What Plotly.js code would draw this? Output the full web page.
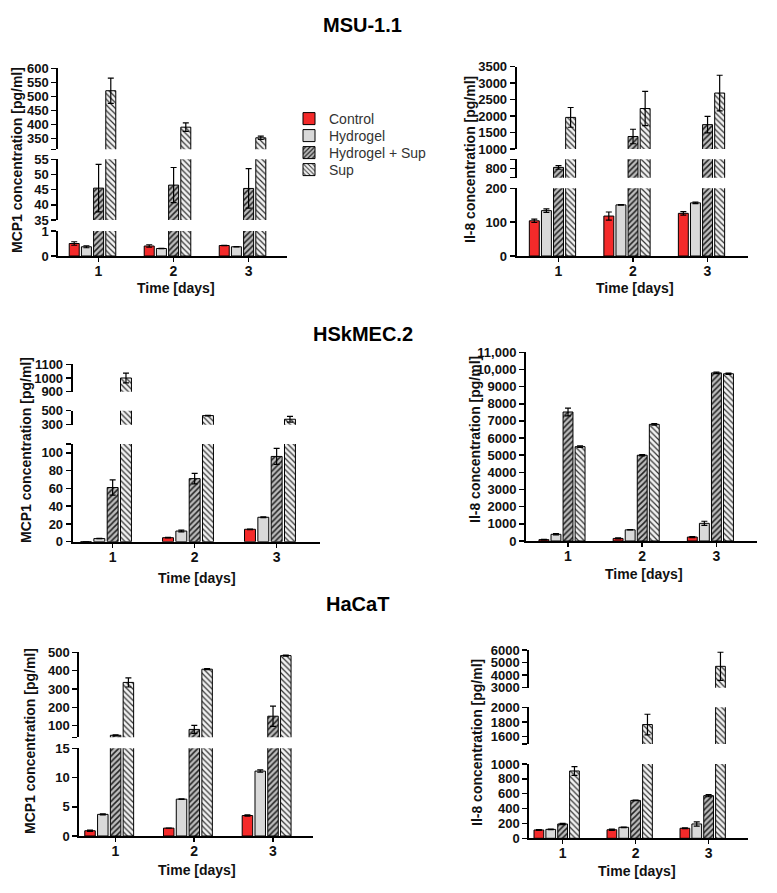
<!DOCTYPE html>
<html><head><meta charset="utf-8">
<script src="https://cdn.plot.ly/plotly-3.0.1.min.js"></script>
<style>html,body{margin:0;padding:0;background:#fff}#chart{width:777px;height:893px}</style>
</head><body><div id="chart"></div>
<script>
// ---------- DATA ----------
const days = [1, 2, 3];
const seriesNames = ['Control', 'Hydrogel', 'Hydrogel + Sup', 'Sup'];

// MSU-1.1 MCP1
const msuMcp1Control = [0.50, 0.40, 0.42];   const msuMcp1ControlErr = [0.07, 0.05, 0.01];
const msuMcp1Hydrogel = [0.37, 0.30, 0.37];  const msuMcp1HydrogelErr = [0.04, 0.01, 0.01];
const msuMcp1HydSup = [45.5, 46.5, 45.4];    const msuMcp1HydSupErr = [7.8, 5.8, 6.5];
const msuMcp1Sup = [520, 390, 352];          const msuMcp1SupErr = [45, 15, 6];
// MSU-1.1 IL-8
const msuIl8Control = [104, 118, 126];       const msuIl8ControlErr = [5, 12, 5];
const msuIl8Hydrogel = [134, 151, 157];      const msuIl8HydrogelErr = [5, 1, 2];
const msuIl8HydSup = [806, 1380, 1740];      const msuIl8HydSupErr = [10, 220, 250];
const msuIl8Sup = [1960, 2230, 2700];        const msuIl8SupErr = [300, 520, 540];
// HSkMEC.2 MCP1
const hskMcp1Control = [0, 4.5, 14];         const hskMcp1ControlErr = [0, 0.3, 0.3];
const hskMcp1Hydrogel = [3.5, 12, 27.5];     const hskMcp1HydrogelErr = [0.2, 1, 0.5];
const hskMcp1HydSup = [61, 71, 96];          const hskMcp1HydSupErr = [8.5, 6, 9];
const hskMcp1Sup = [1000, 430, 378];         const hskMcp1SupErr = [35, 5, 42];
// HSkMEC.2 IL-8
const hskIl8Control = [80, 150, 230];        const hskIl8ControlErr = [20, 30, 30];
const hskIl8Hydrogel = [390, 650, 1030];     const hskIl8HydrogelErr = [40, 10, 120];
const hskIl8HydSup = [7520, 5000, 9800];     const hskIl8HydSupErr = [230, 40, 40];
const hskIl8Sup = [5500, 6800, 9750];        const hskIl8SupErr = [50, 50, 40];
// HaCaT MCP1
const hacMcp1Control = [0.9, 1.35, 3.5];     const hacMcp1ControlErr = [0.1, 0.02, 0.1];
const hacMcp1Hydrogel = [3.7, 6.3, 11.1];    const hacMcp1HydrogelErr = [0.1, 0.05, 0.2];
const hacMcp1HydSup = [48, 80, 152];         const hacMcp1HydSupErr = [3, 22, 55];
const hacMcp1Sup = [336, 408, 482];          const hacMcp1SupErr = [25, 3, 3];
// HaCaT IL-8
const hacIl8Control = [112, 115, 135];       const hacIl8ControlErr = [5, 8, 5];
const hacIl8Hydrogel = [120, 148, 193];      const hacIl8HydrogelErr = [5, 3, 28];
const hacIl8HydSup = [193, 510, 574];        const hacIl8HydSupErr = [8, 3, 15];
const hacIl8Sup = [906, 1765, 4700];         const hacIl8SupErr = [60, 140, 1120];

// tick labels
const dayTickText = ['1', '2', '3'];
const msuMcp1TickTop = ['', '350', '400', '450', '500', '550', '600'];
const msuMcp1TickMid = ['35', '40', '45', '50', '55'];
const msuMcp1TickLow = ['0', '1'];
const msuIl8TickTop = ['1000', '1500', '2000', '2500', '3000', '3500'];
const msuIl8TickMid = ['', '800', ''];
const msuIl8TickLow = ['0', '100', '200'];
const hskMcp1TickTop = ['900', '1000', '1100'];
const hskMcp1TickMid = ['300', '500'];
const hskMcp1TickLow = ['0', '20', '40', '60', '80', '100', ''];
const hskIl8Tick = ['0', '1000', '2000', '3000', '4000', '5000', '6000', '7000', '8000', '9000', '10,000', '11,000'];
const hacMcp1TickTop = ['', '100', '200', '300', '400', '500'];
const hacMcp1TickLow = ['0', '5', '10', '15'];
const hacIl8TickTop = ['3000', '4000', '5000', '6000'];
const hacIl8TickMid = ['', '1600', '1800', '2000'];
const hacIl8TickLow = ['0', '200', '400', '600', '800', '1000'];

// ---------- LAYOUT / STYLE ----------
const W = 777, H = 893;
const FONT = "Arial, 'Liberation Sans', sans-serif";
const px = x => x / W, py = y => 1 - y / H;
const TICK_SHIFT = 0.08;

const seriesStyle = [
  {color: '#f42a2a'},
  {color: '#d9d9d9'},
  {color: '#b5b5b5', pattern: {shape: '/', bgcolor: '#bdbdbd', fgcolor: '#222', size: 4, solidity: 0.38}},
  {color: '#eeeeee', pattern: {shape: '\\', bgcolor: '#f2f2f2', fgcolor: '#333', size: 4, solidity: 0.3}}
];
const legendRowsY = [119, 136, 153, 170];

const panels = [
  {xL: 58.3, xR: 286.7, range: [0.544, 3.589],
   vals: [msuMcp1Control, msuMcp1Hydrogel, msuMcp1HydSup, msuMcp1Sup],
   errs: [msuMcp1ControlErr, msuMcp1HydrogelErr, msuMcp1HydSupErr, msuMcp1SupErr],
   segs: [
     {r: [0, 1], yb: 256, yt: 231, tv: [0, 1], tt: msuMcp1TickLow},
     {r: [35, 55], yb: 220, yt: 159.3, tv: [35, 40, 45, 50, 55], tt: msuMcp1TickMid},
     {r: [311, 600], yb: 149.3, yt: 68.3, tv: [311, 350, 400, 450, 500, 550, 600], tt: msuMcp1TickTop}],
   ytitle: 'MCP1 concentration [pg/ml]', ytx: 17, yty: 160, xtx: 175.7, xty: 288},
  {xL: 516.7, xR: 748.3, range: [0.52, 3.628],
   vals: [msuIl8Control, msuIl8Hydrogel, msuIl8HydSup, msuIl8Sup],
   errs: [msuIl8ControlErr, msuIl8HydrogelErr, msuIl8HydSupErr, msuIl8SupErr],
   segs: [
     {r: [0, 200], yb: 256, yt: 188.3, tv: [0, 100, 200], tt: msuIl8TickLow},
     {r: [750, 850], yb: 177.7, yt: 159.3, tv: [750, 800, 850], tt: msuIl8TickMid},
     {r: [1000, 3500], yb: 149, yt: 66.7, tv: [1000, 1500, 2000, 2500, 3000, 3500], tt: msuIl8TickTop}],
   ytitle: 'Il-8 concentration [pg/ml]', ytx: 470, yty: 160, xtx: 635, xty: 288},
  {xL: 72.7, xR: 320, range: [0.594, 3.61],
   vals: [hskMcp1Control, hskMcp1Hydrogel, hskMcp1HydSup, hskMcp1Sup],
   errs: [hskMcp1ControlErr, hskMcp1HydrogelErr, hskMcp1HydSupErr, hskMcp1SupErr],
   segs: [
     {r: [0, 110], yb: 541.7, yt: 444, tv: [0, 20, 40, 60, 80, 100, 110], tt: hskMcp1TickLow},
     {r: [300, 500], yb: 424.7, yt: 410.7, tv: [300, 500], tt: hskMcp1TickMid},
     {r: [900, 1100], yb: 391.7, yt: 364.3, tv: [900, 1000, 1100], tt: hskMcp1TickTop}],
   ytitle: 'MCP1 concentration [pg/ml]', ytx: 26, yty: 450, xtx: 196.7, xty: 577.7},
  {xL: 526, xR: 756.7, range: [0.515, 3.624],
   vals: [hskIl8Control, hskIl8Hydrogel, hskIl8HydSup, hskIl8Sup],
   errs: [hskIl8ControlErr, hskIl8HydrogelErr, hskIl8HydSupErr, hskIl8SupErr],
   segs: [
     {r: [0, 11000], yb: 541, yt: 352.3, tv: [0, 1000, 2000, 3000, 4000, 5000, 6000, 7000, 8000, 9000, 10000, 11000], tt: hskIl8Tick}],
   ytitle: 'Il-8 concentration [pg/ml]', ytx: 475, yty: 440, xtx: 644, xty: 574.3},
  {xL: 79.3, xR: 313.3, range: [0.62, 3.593],
   vals: [hacMcp1Control, hacMcp1Hydrogel, hacMcp1HydSup, hacMcp1Sup],
   errs: [hacMcp1ControlErr, hacMcp1HydrogelErr, hacMcp1HydSupErr, hacMcp1SupErr],
   segs: [
     {r: [0, 15], yb: 836, yt: 748.3, tv: [0, 5, 10, 15], tt: hacMcp1TickLow},
     {r: [37, 500], yb: 737.3, yt: 652.3, tv: [37, 100, 200, 300, 400, 500], tt: hacMcp1TickTop}],
   ytitle: 'MCP1 concentration [pg/ml]', ytx: 30, yty: 741, xtx: 196.7, xty: 870},
  {xL: 529.3, xR: 748.3, range: [0.625, 3.625],
   vals: [hacIl8Control, hacIl8Hydrogel, hacIl8HydSup, hacIl8Sup],
   errs: [hacIl8ControlErr, hacIl8HydrogelErr, hacIl8HydSupErr, hacIl8SupErr],
   segs: [
     {r: [0, 1000], yb: 838.3, yt: 764, tv: [0, 200, 400, 600, 800, 1000], tt: hacIl8TickLow},
     {r: [1500, 2000], yb: 744, yt: 707.3, tv: [1500, 1600, 1800, 2000], tt: hacIl8TickMid},
     {r: [3000, 6000], yb: 687.7, yt: 650, tv: [3000, 4000, 5000, 6000], tt: hacIl8TickTop}],
   ytitle: 'Il-8 concentration [pg/ml]', ytx: 477, yty: 743, xtx: 637.3, xty: 871}
];

const xTickFont = {family: FONT, size: 14, color: '#111', weight: 'bold'};
const yTickFont = {family: FONT, size: 13, color: '#111', weight: 'bold'};
const traces = [];
const layout = {
  width: W, height: H, margin: {l: 0, r: 0, t: 0, b: 0},
  paper_bgcolor: '#fff', plot_bgcolor: 'rgba(0,0,0,0)',
  barmode: 'group', bargap: 0.35, bargroupgap: 0.18,
  showlegend: true,
  annotations: [], hovermode: false
};
// one single-item legend per series so the rows can sit as close as in the reference
seriesNames.forEach((nm, j) => {
  layout[j === 0 ? 'legend' : 'legend' + (j + 1)] = {
    x: px(289), y: py(legendRowsY[j]), xanchor: 'left', yanchor: 'middle',
    font: {family: FONT, size: 14, color: '#333'}, bgcolor: 'rgba(0,0,0,0)',
    borderwidth: 0
  };
});

let yIdx = 0;
panels.forEach((p, k) => {
  const xName = 'x' + (k + 1);
  const xKey = 'xaxis' + (k + 1);
  const firstY = yIdx + 1;
  layout[xKey] = {
    domain: [px(p.xL), px(p.xR)], range: p.range, anchor: 'y' + firstY,
    showline: true, linewidth: 2, linecolor: '#000', showgrid: false, zeroline: false,
    ticks: 'outside', ticklen: 4, tickwidth: 1.5, tickcolor: '#000',
    tickvals: days.map(d => d + TICK_SHIFT), ticktext: dayTickText,
    tickfont: xTickFont, ticklabelstandoff: -3, fixedrange: true
  };
  p.segs.forEach((s, si) => {
    yIdx += 1;
    const yName = 'y' + yIdx;
    layout['yaxis' + yIdx] = {
      domain: [py(s.yb), py(s.yt)], range: s.r, anchor: xName,
      showline: true, linewidth: 2, linecolor: '#000', showgrid: false, zeroline: false,
      ticks: 'outside', ticklen: 5, tickwidth: 1.5, tickcolor: '#000',
      tickvals: s.tv, ticktext: s.tt, tickfont: yTickFont, fixedrange: true
    };
    seriesNames.forEach((nm, j) => {
      const st = seriesStyle[j];
      const marker = {color: st.color, line: {color: '#000', width: 1}};
      if (st.pattern) marker.pattern = st.pattern;
      traces.push({
        type: 'bar', x: days, y: p.vals[j], name: nm,
        xaxis: xName, yaxis: yName, marker: marker,
        error_y: {type: 'data', array: p.errs[j], visible: true, color: '#000', thickness: 1.2, width: 3},
        showlegend: (k === 0 && si === 0), legend: (j === 0 ? 'legend' : 'legend' + (j + 1)),
        legendgroup: nm, hoverinfo: 'skip'
      });
    });
  });
  layout.annotations.push({
    text: p.ytitle, textangle: -90, x: px(p.ytx), y: py(p.yty), xref: 'paper', yref: 'paper',
    xanchor: 'center', yanchor: 'middle', showarrow: false,
    font: {family: FONT, size: 14, color: '#111', weight: 'bold'}
  });
  layout.annotations.push({
    text: 'Time [days]', x: px(p.xtx), y: py(p.xty), xref: 'paper', yref: 'paper',
    xanchor: 'center', yanchor: 'middle', showarrow: false,
    font: {family: FONT, size: 14, color: '#111', weight: 'bold'}
  });
});

[['MSU-1.1', 362.5, 25.5], ['HSkMEC.2', 363, 334], ['HaCaT', 357, 604]].forEach(t => {
  layout.annotations.push({
    text: t[0], x: px(t[1]), y: py(t[2]), xref: 'paper', yref: 'paper',
    xanchor: 'center', yanchor: 'middle', showarrow: false,
    font: {family: FONT, size: 20, color: '#000', weight: 'bold'}
  });
});

Plotly.newPlot('chart', traces, layout, {staticPlot: true, displayModeBar: false});
</script></body></html>
